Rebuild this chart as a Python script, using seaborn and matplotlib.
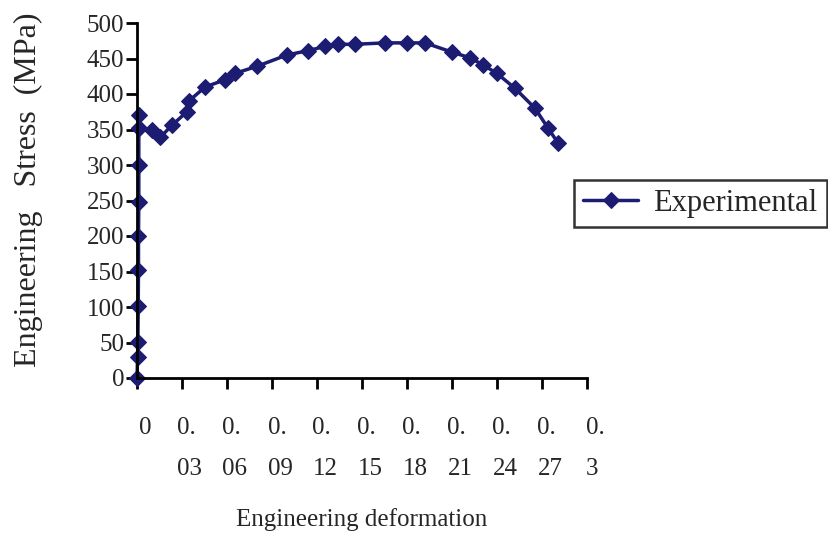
import seaborn as sns
import matplotlib.pyplot as plt
import matplotlib.transforms as mtransforms
import pandas as pd

# engineering strain / stress
strain = [0.0, 0.0004, 0.0006, 0.0008, 0.001, 0.001, 0.0012, 0.0012, 0.0012, 0.0012, 0.0014,
          0.0100, 0.0155, 0.0233, 0.0333, 0.0345, 0.0455, 0.0587, 0.0653, 0.0800,
          0.1000, 0.1140, 0.1253, 0.1340, 0.1453, 0.1653, 0.1800, 0.1920,
          0.2100, 0.2220, 0.2307, 0.2400, 0.2520, 0.2653, 0.2740, 0.2807]
stress = [0, 30, 51, 101, 152, 200, 248, 300, 352, 370, 352,
          349, 339, 356, 375, 390, 410, 420, 429, 439,
          455, 461, 467, 470, 470, 472, 472, 472,
          459, 451, 441, 429, 408, 380, 352, 331]

x_ticks = [0, 0.03, 0.06, 0.09, 0.12, 0.15, 0.18, 0.21, 0.24, 0.27, 0.3]
x_tick_labels = ["0", "0.\n03", "0.\n06", "0.\n09", "0.\n12", "0.\n15",
                 "0.\n18", "0.\n21", "0.\n24", "0.\n27", "0.\n3"]
y_ticks = [0, 50, 100, 150, 200, 250, 300, 350, 400, 450, 500]

df = pd.DataFrame({"strain": strain, "stress": stress, "series": "Experimental"})

sns.set_style("ticks")
plt.rcParams["font.family"] = ["Liberation Serif", "DejaVu Serif"]

navy = "#1c1c72"
fig = plt.figure(figsize=(8.29, 5.36), dpi=100)
ax = fig.add_axes([137 / 829, 1 - 378 / 536, 450 / 829, 355 / 536])

sns.lineplot(data=df, x="strain", y="stress", hue="series", palette=[navy],
             sort=False, estimator=None, marker="D", markersize=8.5, markeredgecolor=navy,
             linewidth=2.5, ax=ax, clip_on=False)

ax.set_xlim(0, 0.3)
ax.set_ylim(0, 500)
ax.set_xticks(x_ticks)
ax.set_xticklabels(x_tick_labels, fontsize=18, linespacing=2.15, multialignment="left")
ax.set_yticks(y_ticks)
ax.set_yticklabels([str(v) for v in y_ticks], fontsize=18)
ax.tick_params(axis="x", direction="out", length=8, width=2, pad=20, color="black")
ax.tick_params(axis="y", direction="out", length=8, width=2, pad=1, color="black")
sns.despine(ax=ax)
for s in ["left", "bottom"]:
    ax.spines[s].set_linewidth(2)
    ax.spines[s].set_color("black")

shift = mtransforms.ScaledTranslation(0.08, 0, fig.dpi_scale_trans)
for lab in ax.get_xticklabels():
    lab.set_transform(lab.get_transform() + shift)

ax.set_xlabel("")
ax.set_ylabel("")
fig.text(362 / 829, 1 - 520 / 536, "Engineering deformation", ha="center", va="center", fontsize=18)
fig.text(28 / 829, 1 - 190 / 536, "Engineering   Stress  (MPa)", rotation=90,
         ha="center", va="center", fontsize=23)

leg = ax.legend(loc="upper left", bbox_to_anchor=(574 / 829, 1 - 180 / 536),
                bbox_transform=fig.transFigure, fontsize=22, frameon=True,
                fancybox=False, borderpad=0.3, handlelength=1.8, handletextpad=0.5,
                borderaxespad=0)
leg.get_frame().set_edgecolor("black")
leg.get_frame().set_linewidth(1.8)

fig.savefig("out.png", dpi=100)
